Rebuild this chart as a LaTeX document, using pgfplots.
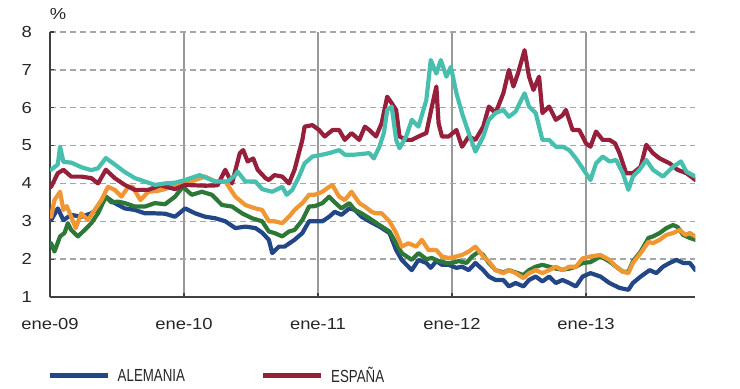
\documentclass[border=0pt]{standalone}
\usepackage{pgfplots}
\pgfplotsset{compat=1.18}
\usepackage{fontspec}
\setmainfont{Liberation Sans}
\newfontfamily\tickfamily{Liberation Sans}[FakeStretch=1.15]
\newfontfamily\legfamily{Liberation Sans}[FakeStretch=0.76]
\newcommand\tickfont{\tickfamily\fontsize{16bp}{18bp}\selectfont}
\newcommand\legfont{\legfamily\fontsize{17.5bp}{19bp}\selectfont}
\definecolor{cteal}{HTML}{48BFAE}
\definecolor{cred}{HTML}{96203C}
\definecolor{cblue}{HTML}{234687}
\definecolor{corange}{HTML}{F09632}
\definecolor{cgreen}{HTML}{2D7837}

\pgfplotstableread{
m v
0.1 3.03
0.7 3.34
1.2 3.03
1.9 3.17
2.8 3.12
3.7 3.21
4.3 3.34
5.0 3.65
5.8 3.48
6.7 3.34
7.6 3.30
8.5 3.21
9.4 3.21
10.3 3.20
11.2 3.12
12.1 3.34
13.0 3.21
13.9 3.12
14.8 3.08
15.7 3.00
16.6 2.82
17.5 2.86
18.4 2.82
19.0 2.70
19.6 2.51
19.9 2.16
20.5 2.33
21.0 2.33
21.9 2.51
22.6 2.69
23.2 3.00
23.7 3.00
24.4 3.00
25.0 3.12
25.5 3.25
26.1 3.17
26.8 3.34
27.3 3.30
27.9 3.12
28.6 3.00
29.5 2.86
30.4 2.69
31.0 2.24
31.5 1.98
32.4 1.71
33.0 1.98
33.7 1.90
34.1 1.77
34.6 1.95
35.1 1.85
35.7 1.85
36.4 1.77
36.9 1.80
37.5 1.71
38.1 1.90
38.8 1.71
39.3 1.54
39.9 1.45
40.6 1.45
41.1 1.28
41.7 1.37
42.4 1.28
42.9 1.45
43.5 1.54
44.1 1.41
44.7 1.54
45.3 1.37
45.9 1.45
46.5 1.37
47.1 1.28
47.7 1.54
48.4 1.63
49.3 1.54
50.1 1.37
51.0 1.24
51.8 1.19
52.2 1.37
52.9 1.54
53.7 1.71
54.3 1.63
54.9 1.80
55.5 1.90
56.1 1.98
56.7 1.90
57.3 1.90
57.8 1.71
}\alemania

\pgfplotstableread{
m v
0.1 3.91
0.7 4.27
1.2 4.36
1.9 4.18
2.8 4.18
3.7 4.14
4.3 4.00
5.0 4.36
5.8 4.14
6.7 3.96
7.6 3.83
8.8 3.83
9.9 3.95
11.2 3.85
12.1 3.96
13.9 3.94
15.0 3.95
15.7 4.36
16.3 4.00
17.0 4.80
17.3 4.88
17.7 4.58
18.2 4.66
18.6 4.36
19.3 4.14
19.6 4.09
20.1 4.22
20.8 4.18
21.4 4.00
21.9 4.36
22.6 5.15
22.8 5.50
23.5 5.54
24.1 5.41
24.6 5.24
25.3 5.41
25.9 5.41
26.4 5.15
27.0 5.33
27.7 5.15
28.2 5.50
28.6 5.41
29.2 5.24
29.7 5.59
30.2 6.29
30.6 6.12
31.0 5.94
31.3 5.24
31.9 5.15
32.4 5.15
33.0 5.24
33.7 5.33
34.2 6.03
34.6 6.56
34.8 5.59
35.1 5.24
35.7 5.24
36.4 5.41
36.9 4.97
37.5 5.24
38.1 5.15
38.8 5.50
39.3 6.03
39.9 5.86
40.6 6.38
41.1 7.00
41.5 6.56
41.9 6.90
42.5 7.52
42.9 6.82
43.3 6.47
43.8 6.82
44.1 5.86
44.7 6.03
45.3 5.68
45.9 5.80
46.2 5.94
46.8 5.41
47.4 5.41
48.0 5.06
48.4 4.97
48.9 5.37
49.5 5.15
50.1 5.15
50.6 5.06
51.0 4.80
51.6 4.27
52.2 4.27
52.9 4.44
53.4 5.02
54.0 4.80
54.6 4.66
55.5 4.53
56.2 4.36
57.0 4.27
57.8 4.09
}\espana

\pgfplotstableread{
m v
0.1 2.42
0.4 2.20
0.9 2.60
1.3 2.69
1.6 2.95
1.9 2.77
2.5 2.60
3.1 2.77
3.7 2.95
4.3 3.21
5.0 3.65
5.5 3.50
6.1 3.52
6.7 3.48
7.6 3.39
8.5 3.39
9.4 3.48
10.3 3.45
11.2 3.65
11.9 3.91
12.7 3.70
13.6 3.78
14.5 3.70
15.4 3.43
16.3 3.39
17.2 3.21
18.1 3.08
19.0 3.00
19.6 2.73
20.1 2.69
20.8 2.60
21.4 2.73
21.9 2.77
22.6 3.03
23.2 3.39
23.7 3.40
24.4 3.48
25.0 3.65
25.5 3.50
26.1 3.34
26.8 3.48
27.3 3.30
27.9 3.21
28.6 3.08
29.5 2.90
30.4 2.73
31.0 2.42
31.5 2.16
32.4 1.98
33.0 2.16
33.7 2.00
34.2 2.03
34.8 1.95
35.5 1.90
36.0 1.90
36.6 1.95
37.3 1.90
37.8 2.07
38.4 2.20
38.8 2.11
39.3 1.90
39.9 1.71
40.6 1.65
41.1 1.71
41.7 1.65
42.4 1.58
42.9 1.71
43.5 1.80
44.1 1.85
44.7 1.80
45.3 1.75
45.9 1.72
46.5 1.75
47.1 1.80
47.7 1.90
48.4 1.92
49.3 2.07
50.1 1.94
50.7 1.80
51.3 1.67
51.8 1.67
52.2 1.94
52.9 2.20
53.6 2.56
54.0 2.60
54.6 2.69
55.2 2.82
55.8 2.90
56.2 2.85
56.7 2.64
57.3 2.56
57.8 2.51
}\verde

\pgfplotstableread{
m v
0.1 3.12
0.4 3.56
0.9 3.78
1.2 3.30
1.5 3.40
1.9 3.12
2.3 2.82
2.8 3.21
3.4 3.03
4.0 3.30
4.6 3.56
5.2 3.91
5.8 3.83
6.4 3.65
7.0 3.91
7.4 3.91
8.1 3.56
8.8 3.78
9.6 3.80
10.3 3.85
11.2 3.96
12.1 4.00
13.0 4.09
13.9 4.18
14.8 4.05
15.7 4.05
16.6 3.65
17.5 3.43
18.4 3.34
19.0 3.30
19.6 3.00
20.1 3.00
20.8 2.95
21.4 3.12
21.9 3.30
22.6 3.48
23.2 3.70
23.7 3.70
24.4 3.78
25.0 3.91
25.3 3.95
25.9 3.65
26.4 3.56
27.0 3.78
27.7 3.48
28.2 3.39
28.8 3.25
29.2 3.21
29.7 3.21
30.4 3.00
31.0 2.69
31.5 2.33
32.1 2.42
32.8 2.33
33.3 2.51
33.9 2.24
34.6 2.24
35.1 2.07
35.7 2.03
36.4 2.07
36.9 2.11
37.5 2.20
38.1 2.33
38.8 2.07
39.3 1.94
39.9 1.71
40.6 1.63
41.1 1.71
41.7 1.63
42.4 1.50
42.9 1.63
43.5 1.71
44.1 1.63
44.7 1.71
45.3 1.80
45.9 1.71
46.5 1.80
47.1 1.80
47.7 2.02
48.4 2.07
49.3 2.11
50.1 1.98
50.7 1.80
51.3 1.67
51.8 1.63
52.2 1.90
52.9 2.16
53.6 2.46
54.0 2.42
54.6 2.51
55.2 2.64
55.8 2.69
56.4 2.77
56.9 2.64
57.3 2.69
57.8 2.60
}\naranja

\pgfplotstableread{
m v
0.1 4.36
0.7 4.50
0.9 4.97
1.2 4.57
1.9 4.55
2.8 4.43
3.7 4.35
4.3 4.40
5.0 4.67
5.8 4.50
6.7 4.30
7.6 4.14
8.5 4.05
9.4 3.96
10.3 4.00
11.2 4.02
12.1 4.09
13.4 4.22
14.8 4.05
15.9 4.05
16.6 4.22
16.8 4.31
17.5 4.05
18.4 4.05
19.0 3.85
19.9 3.78
20.8 3.91
21.2 3.70
21.7 3.83
22.3 4.18
22.8 4.53
23.5 4.71
24.4 4.76
25.0 4.80
25.9 4.88
26.4 4.76
27.3 4.76
28.6 4.80
29.0 4.66
29.5 4.97
29.9 5.33
30.2 5.94
30.6 6.03
31.0 5.15
31.3 4.93
31.9 5.24
32.4 5.68
33.0 5.50
33.7 6.20
34.1 7.26
34.6 6.90
35.0 7.26
35.5 6.82
35.9 7.08
36.4 6.38
36.9 5.86
37.5 5.33
38.1 4.84
38.8 5.24
39.3 5.68
39.9 5.86
40.6 5.94
41.1 5.76
41.7 5.90
42.5 6.38
42.9 6.03
43.5 5.86
44.1 5.15
44.7 5.15
45.3 4.97
45.9 4.97
46.5 4.88
47.1 4.66
47.7 4.40
48.4 4.09
48.9 4.53
49.5 4.71
50.1 4.58
50.7 4.62
51.3 4.27
51.8 3.83
52.2 4.18
52.8 4.36
53.4 4.62
54.0 4.36
54.9 4.18
55.8 4.44
56.5 4.58
57.0 4.31
57.8 4.18
}\italia

\begin{document}
\begin{tikzpicture}
\useasboundingbox (0,0) rectangle (740bp,389bp);
\begin{axis}[
  at={(50bp,92bp)}, anchor=south west,
  scale only axis, width=645.4bp, height=265bp,
  xmin=0, xmax=57.8, ymin=1, ymax=8,
  axis x line*=bottom, axis y line*=left,
  axis line style={-, line width=1.4bp, color=black!75},
  xtick={0,12,24,36,48},
  xticklabels={ene-09,ene-10,ene-11,ene-12,ene-13},
  ytick={1,2,3,4,5,6,7,8},
  xmajorgrids, ymajorgrids,
  x grid style={solid, line width=1.1bp, color=black!40},
  y grid style={dashed, dash pattern=on 6bp off 4bp, line width=1.3bp, color=black!35},
  major tick length=4bp,
  tick style={line width=1.2bp, color=black!75},
  /pgf/number format/assume math mode=true,
  tick label style={font=\tickfont, text=black!85},
  yticklabel style={inner sep=0pt, anchor=east, xshift=-18bp},
  xticklabel style={inner sep=0pt, anchor=center, yshift=-27bp},
  legend columns=2,
  legend style={at={(axis description cs:-0.0046,-0.298)}, anchor=west,
    draw=none, fill=none, inner sep=0pt,
    nodes={inner sep=0pt, anchor=west, font=\legfont, text=black!85}},
  legend image code/.code={\draw[#1, line width=5bp, line cap=butt] (0bp,0bp) -- (58bp,0bp); \path[draw=none, fill=none] (0bp,-3bp) rectangle (68bp,3bp);},
  every axis plot/.append style={line width=4.2bp, line join=round, line cap=round, mark=none},
]
\addplot[cblue] table[x=m, y=v] {\alemania};
\addlegendentry{\makebox[143bp][l]{ALEMANIA}}
\addplot[cgreen, forget plot] table[x=m, y=v] {\verde};
\addplot[corange, forget plot] table[x=m, y=v] {\naranja};
\addplot[cred] table[x=m, y=v] {\espana};
\addlegendentry{ESPAÑA}
\addplot[cteal, forget plot] table[x=m, y=v] {\italia};
\end{axis}
\node[font=\tickfont, text=black!85] at (58bp,375bp) {\%};
\end{tikzpicture}
\end{document}
